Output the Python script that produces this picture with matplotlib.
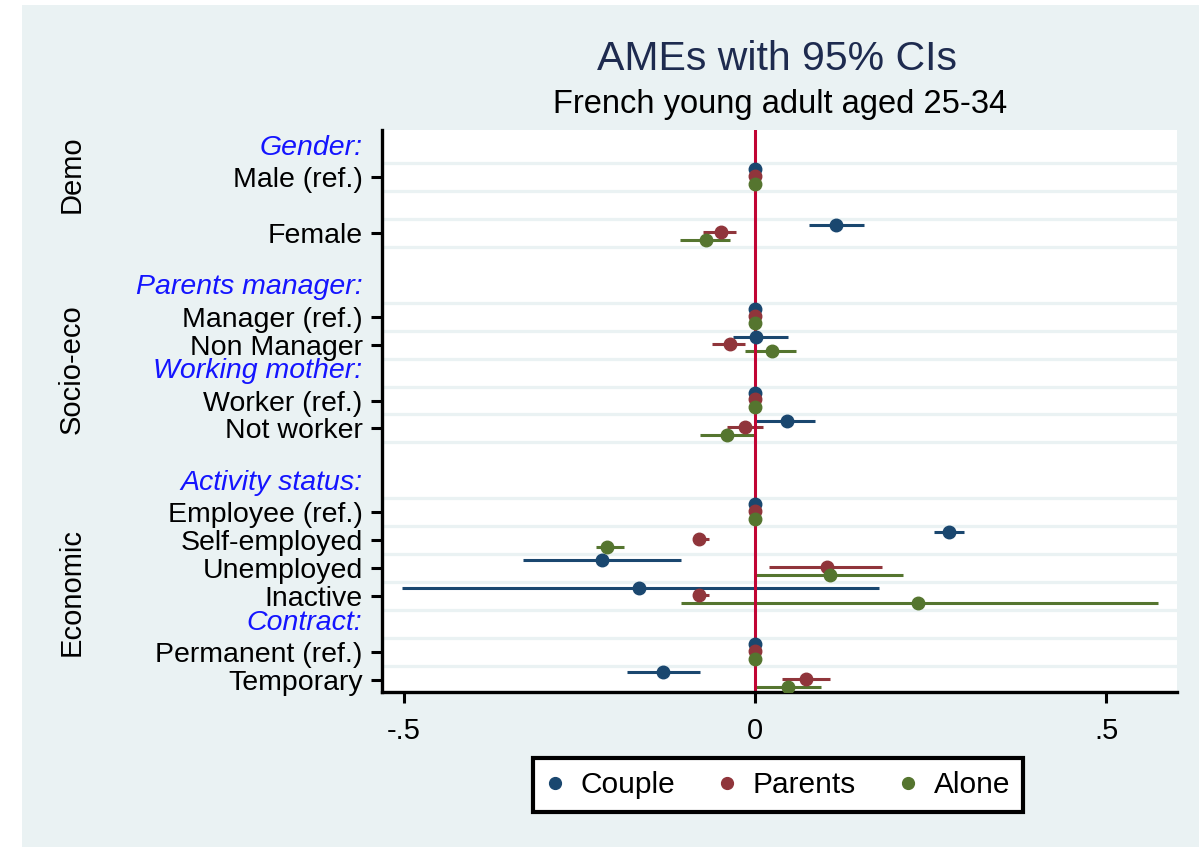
import numpy as np
import matplotlib.pyplot as plt
import matplotlib.transforms as mtransforms
from matplotlib.patches import Rectangle
from matplotlib.lines import Line2D

plt.rcParams['font.family'] = ['Liberation Sans', 'DejaVu Sans']

# rows of the coefficient plot, top to bottom (header rows have no estimate)
rows = ['Gender:', 'Male (ref.)', '', 'Female', '',
        'Parents manager:', 'Manager (ref.)', 'Non Manager',
        'Working mother:', 'Worker (ref.)', 'Not worker', '',
        'Activity status:', 'Employee (ref.)', 'Self-employed', 'Unemployed',
        'Inactive', 'Contract:', 'Permanent (ref.)', 'Temporary']
headers = ['Gender:', 'Parents manager:', 'Working mother:', 'Activity status:', 'Contract:']
coef_rows = ['Male (ref.)', 'Female', 'Manager (ref.)', 'Non Manager',
             'Worker (ref.)', 'Not worker', 'Employee (ref.)', 'Self-employed',
             'Unemployed', 'Inactive', 'Permanent (ref.)', 'Temporary']

# average marginal effects and 95% CIs, same order as coef_rows
couple = [0, 0.116, 0, 0.002, 0, 0.046, 0, 0.276, -0.218, -0.165, 0, -0.131]
couple_lo = [0, 0.077, 0, -0.031, 0, 0.002, 0, 0.255, -0.330, -0.503, 0, -0.182]
couple_hi = [0, 0.155, 0, 0.047, 0, 0.086, 0, 0.298, -0.105, 0.177, 0, -0.078]

parents = [0, -0.049, 0, -0.036, 0, -0.014, 0, -0.079, 0.103, -0.079, 0, 0.073]
parents_lo = [0, -0.074, 0, -0.061, 0, -0.040, 0, -0.088, 0.020, -0.088, 0, 0.038]
parents_hi = [0, -0.027, 0, -0.014, 0, 0.011, 0, -0.066, 0.181, -0.066, 0, 0.107]

alone = [0, -0.070, 0, 0.024, 0, -0.040, 0, -0.210, 0.107, 0.232, 0, 0.047]
alone_lo = [0, -0.106, 0, -0.014, 0, -0.078, 0, -0.226, 0.002, -0.105, 0, 0.002]
alone_hi = [0, -0.036, 0, 0.059, 0, -0.001, 0, -0.187, 0.211, 0.574, 0, 0.094]

groups = ['Demo', 'Socio-eco', 'Economic']
group_pos = [0.9, 7.87, 15.85]

series = [('Couple', couple, couple_lo, couple_hi, '#1a476f', -0.28),
          ('Parents', parents, parents_lo, parents_hi, '#90353b', -0.04),
          ('Alone', alone, alone_lo, alone_hi, '#55752f', 0.24)]

bg = '#eaf2f3'
fig = plt.figure(figsize=(11.99, 8.47), dpi=100)
fig.patch.set_facecolor('white')
fig.patches.append(Rectangle((22 / 1199, 0), 1, 1 - 5 / 847, transform=fig.transFigure,
                             facecolor=bg, edgecolor='none', zorder=-10))

ax = fig.add_axes([382 / 1199, 1 - 692 / 847, (1177 - 382) / 1199, (692 - 130) / 847])
ax.set_facecolor('white')

pos = {r: i for i, r in enumerate(rows)}
ypos = np.array([pos[r] for r in coef_rows])

# grid lines around every coefficient row
grid = sorted(set(list(ypos - 0.5) + list(ypos + 0.5)))
for g in grid:
    ax.axhline(g, color=bg, lw=2.3, zorder=0)

ax.axvline(0, color='#c10534', lw=2.2, zorder=2)

for name, est, lo, hi, col, off in series:
    est, lo, hi = np.array(est), np.array(lo), np.array(hi)
    ax.hlines(ypos + off, lo, hi, color=col, lw=2.2, zorder=1)
    ax.plot(est, ypos + off, 'o', color=col, ms=9, zorder=3, label=name)

ax.set_xlim(-0.531, 0.601)
ax.set_ylim(19.43, -0.68)
ax.set_xticks([-0.5, 0, 0.5])
ax.set_xticklabels(['-.5', '0', '.5'], fontsize=21)

ax.set_yticks(ypos)
ax.set_yticklabels(coef_rows, fontsize=20.5)
ax.tick_params(axis='both', length=8, width=2.2, color='black')
ax.tick_params(axis='y', pad=6)
ax.tick_params(axis='x', pad=10)

# header labels without tick marks
lab_tr = mtransforms.blended_transform_factory(ax.transAxes, ax.transData)
for h in headers:
    ax.text(-0.025, pos[h] - 0.05, h, transform=lab_tr, ha='right', va='center',
            fontsize=20.5, style='italic', color='#1414ff')

for g, gp in zip(groups, group_pos):
    ax.text((72 - 382) / (1177 - 382), gp, g, transform=lab_tr, rotation=90,
            ha='center', va='center', fontsize=21)

for s in ['top', 'right']:
    ax.spines[s].set_visible(False)
for s in ['left', 'bottom']:
    ax.spines[s].set_linewidth(2.4)

fig.text(777 / 1199, 1 - 59 / 847, 'AMEs with 95% CIs', ha='center', va='center',
         fontsize=29.5, color='#1e2b4f')
fig.text(780 / 1199, 1 - 105 / 847, 'French young adult aged 25-34', ha='center',
         va='center', fontsize=23.5)

handles = [Line2D([], [], ls='none', marker='o', ms=8.5, color=c) for _, _, _, _, c, _ in series]
leg = fig.legend(handles, [s[0] for s in series], loc='center',
                 bbox_to_anchor=(778 / 1199, 1 - 785 / 847), ncol=3, fontsize=21.5,
                 frameon=True, fancybox=False, edgecolor='black', framealpha=1,
                 handlelength=0.6, handletextpad=0.55, columnspacing=1.45,
                 borderpad=0.45)
leg.get_frame().set_linewidth(3)

fig.savefig('out.png', dpi=100, facecolor=fig.get_facecolor())
